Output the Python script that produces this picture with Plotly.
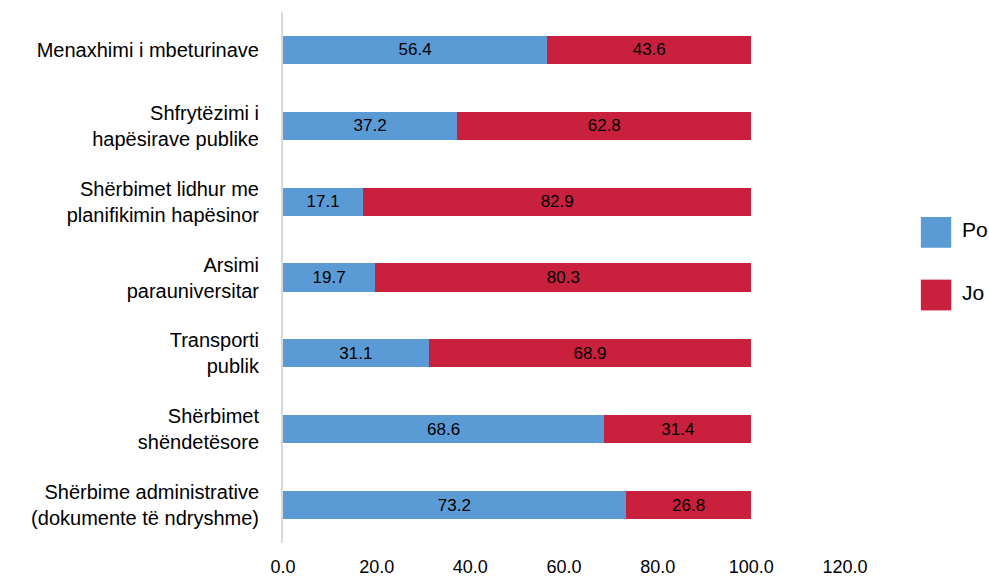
import plotly.graph_objects as go

categories = [
    "Menaxhimi i mbeturinave",
    "Shfrytëzimi i<br>hapësirave publike",
    "Shërbimet lidhur me<br>planifikimin hapësinor",
    "Arsimi<br>parauniversitar",
    "Transporti<br>publik",
    "Shërbimet<br>shëndetësore",
    "Shërbime administrative<br>(dokumente të ndryshme)",
]
po_values = [56.4, 37.2, 17.1, 19.7, 31.1, 68.6, 73.2]
jo_values = [43.6, 62.8, 82.9, 80.3, 68.9, 31.4, 26.8]
series_names = ["Po", "Jo"]
tick_vals = [0, 20, 40, 60, 80, 100, 120]
tick_text = ["0.0", "20.0", "40.0", "60.0", "80.0", "100.0", "120.0"]

BLUE = "#5B9BD5"
RED = "#C8203D"
FONT = "Liberation Sans Narrow, Arial Narrow, Liberation Sans, sans-serif"

fig = go.Figure()
for name, vals, col in [(series_names[0], po_values, BLUE), (series_names[1], jo_values, RED)]:
    fig.add_trace(go.Bar(
        y=categories, x=vals, name=name, orientation="h",
        marker=dict(color=col, line=dict(width=0)),
        text=[f"{v:.1f}" for v in vals], textposition="inside",
        insidetextanchor="middle", textangle=0,
        textfont=dict(color="black", size=17, family=FONT),
        showlegend=False,
    ))

# legend drawn as large colour squares with labels
legend_rows = [(series_names[0], BLUE, 0.585), (series_names[1], RED, 0.467)]
for name, col, yc in legend_rows:
    fig.add_shape(type="rect", xref="paper", yref="paper",
                  x0=1.162 - 0.027, x1=1.162 + 0.027, y0=yc - 0.029, y1=yc + 0.029,
                  fillcolor=col, line=dict(width=0))
    fig.add_annotation(xref="paper", yref="paper", x=1.205, y=yc + 0.005,
                       text=name, showarrow=False, xanchor="left",
                       font=dict(size=21, color="black", family=FONT))

fig.update_layout(
    barmode="stack", bargap=0.63,
    width=989, height=578,
    margin=dict(l=283, r=144, t=12, b=35, autoexpand=False),
    plot_bgcolor="white", paper_bgcolor="white",
    font=dict(family=FONT, color="black"),
    xaxis=dict(range=[0, 120], tickvals=tick_vals, ticktext=tick_text,
               showgrid=False, zeroline=False, showline=False, automargin=False,
               tickfont=dict(size=18), ticklabelstandoff=11),
    yaxis=dict(autorange="reversed", showgrid=False, zeroline=False, automargin=False,
               showline=True, linecolor="#D9D9D9", linewidth=2,
               tickfont=dict(size=20), ticklabelstandoff=18),
)

fig.write_html("out.html")
